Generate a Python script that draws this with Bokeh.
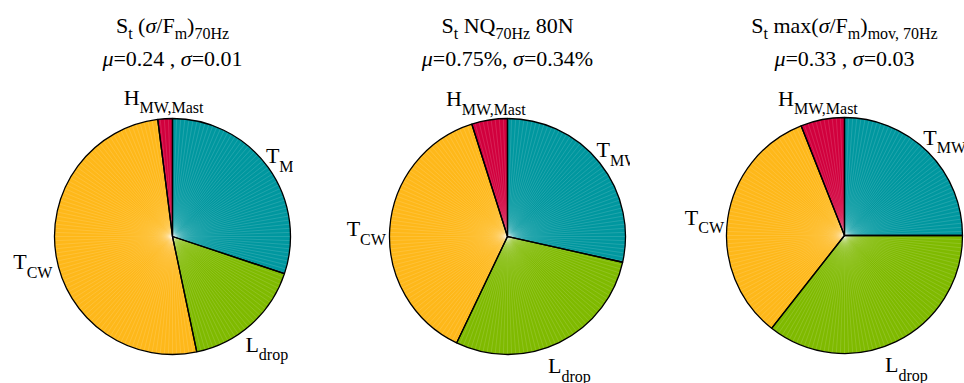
import glob
import numpy as np
from bokeh.plotting import figure
from bokeh.layouts import row
from bokeh.models import Range1d
from bokeh.core.properties import value
from bokeh.embed import file_html
from bokeh.resources import INLINE

# ---------------- data ----------------
slice_labels = [("T", "MW"), ("L", "drop"), ("T", "CW"), ("H", "MW,Mast")]
slice_colors = ["#00979F", "#7FBA00", "#FEB81A", "#D1003D"]
shares_pie1 = [30.1, 16.6, 51.3, 2.0]
shares_pie2 = [28.5, 28.6, 38.0, 4.9]
shares_pie3 = [25.0, 35.6, 33.4, 6.0]

# title segments: (text, style)  m=main, i=main italic, s=subscript
title1_line1 = [("S", "m"), ("t", "s"), (" (", "m"), ("σ", "i"), ("/F", "m"), ("m", "s"), (")", "m"), ("70Hz", "s")]
title1_line2 = [("μ", "i"), ("=0.24 , ", "m"), ("σ", "i"), ("=0.01", "m")]
title2_line1 = [("S", "m"), ("t", "s"), (" NQ", "m"), ("70Hz", "s"), (" 80N", "m")]
title2_line2 = [("μ", "i"), ("=0.75%, ", "m"), ("σ", "i"), ("=0.34%", "m")]
title3_line1 = [("S", "m"), ("t", "s"), (" max(", "m"), ("σ", "i"), ("/F", "m"), ("m", "s"), (")", "m"), ("mov, 70Hz", "s")]
title3_line2 = [("μ", "i"), ("=0.33 , ", "m"), ("σ", "i"), ("=0.03", "m")]

# ---------------- layout ----------------
FONT = "Liberation Serif"
MAIN = 22
SUB = 16
H = 383
R = 118
panels = [
    dict(left=0, width=293, cx=172, cy=236, shares=shares_pie1, titles=(title1_line1, title1_line2)),
    dict(left=293, width=337, cx=507, cy=236, shares=shares_pie2, titles=(title2_line1, title2_line2)),
    dict(left=630, width=334, cx=844, cy=235, shares=shares_pie3, titles=(title3_line1, title3_line2)),
]

# font measuring
_fonts = {}
try:
    from PIL import ImageFont

    def _find(name):
        hits = glob.glob("/usr/share/fonts/**/" + name, recursive=True)
        return hits[0] if hits else None

    _paths = {"n": _find("LiberationSerif-Regular.ttf"), "i": _find("LiberationSerif-Italic.ttf")}
except Exception:
    ImageFont = None
    _paths = {"n": None, "i": None}


def measure(txt, size, italic):
    key = ("i" if italic else "n", size)
    path = _paths["i" if italic else "n"]
    if ImageFont is not None and path:
        if key not in _fonts:
            _fonts[key] = ImageFont.truetype(path, size)
        return _fonts[key].getlength(txt)
    return 0.5 * size * len(txt)


def rich_text(p, segs, cx, base_y, drop):
    info = []
    for t, st in segs:
        size = SUB if st == "s" else MAIN
        it = st == "i"
        info.append((t, st, size, it, measure(t, size, it)))
    total = sum(w for *_, w in info)
    x = cx - total / 2
    for t, st, size, it, w in info:
        lead = len(t) - len(t.lstrip(" "))
        off = measure(" " * lead, size, it) if lead else 0
        yb = base_y + (drop if st == "s" else 0)
        p.text(x=[x + off], y=[H - yb], text=[t.strip(" ")],
               text_font=value(FONT), text_font_size=f"{size}px",
               text_font_style="italic" if it else "normal",
               text_align="left", text_baseline="alphabetic", text_color="black")
        x += w


figs = []
for pan in panels:
    w = pan["width"]
    p = figure(width=w, height=H, output_backend="svg", toolbar_location=None,
               x_range=Range1d(0, w), y_range=Range1d(0, H),
               x_axis_location=None, y_axis_location=None, min_border=0)
    p.outline_line_color = None
    p.grid.visible = False
    p.background_fill_color = "white"
    p.border_fill_color = "white"

    cx = pan["cx"] - pan["left"]
    cy = H - pan["cy"]
    shares = np.array(pan["shares"], dtype=float)
    frac = shares / shares.sum()
    c1 = np.cumsum(frac)
    c0 = c1 - frac
    start = np.pi / 2 - 2 * np.pi * c1
    end = np.pi / 2 - 2 * np.pi * c0

    p.wedge(x=cx, y=cy, radius=R, start_angle=start, end_angle=end,
            fill_color=slice_colors, line_color=None)

    ang = np.deg2rad(np.arange(0, 360, 2.0))
    p.segment(x0=[cx] * len(ang), y0=[cy] * len(ang),
              x1=cx + R * np.cos(ang), y1=cy + R * np.sin(ang),
              line_color="white", line_alpha=0.22, line_width=0.6)

    p.wedge(x=cx, y=cy, radius=R, start_angle=start, end_angle=end,
            fill_color=None, line_color="black", line_width=1.3)

    # slice labels at 1.2 R along mid angle
    mid = 2 * np.pi * (c0 + c1) / 2
    for (mtxt, stxt), th in zip(slice_labels, mid):
        lx = pan["cx"] + 1.2 * R * np.sin(th) - pan["left"]
        ly = pan["cy"] - 1.2 * R * np.cos(th)
        rich_text(p, [(mtxt, "m"), (stxt, "s")], lx, ly + 2, 10.5)

    # titles
    l1, l2 = pan["titles"]
    rich_text(p, l1, cx, 25, 7.7)
    rich_text(p, l2, cx, 58, 7.7)
    figs.append(p)

layout = row(*figs)
open("out.html", "w").write(file_html(layout, INLINE))
